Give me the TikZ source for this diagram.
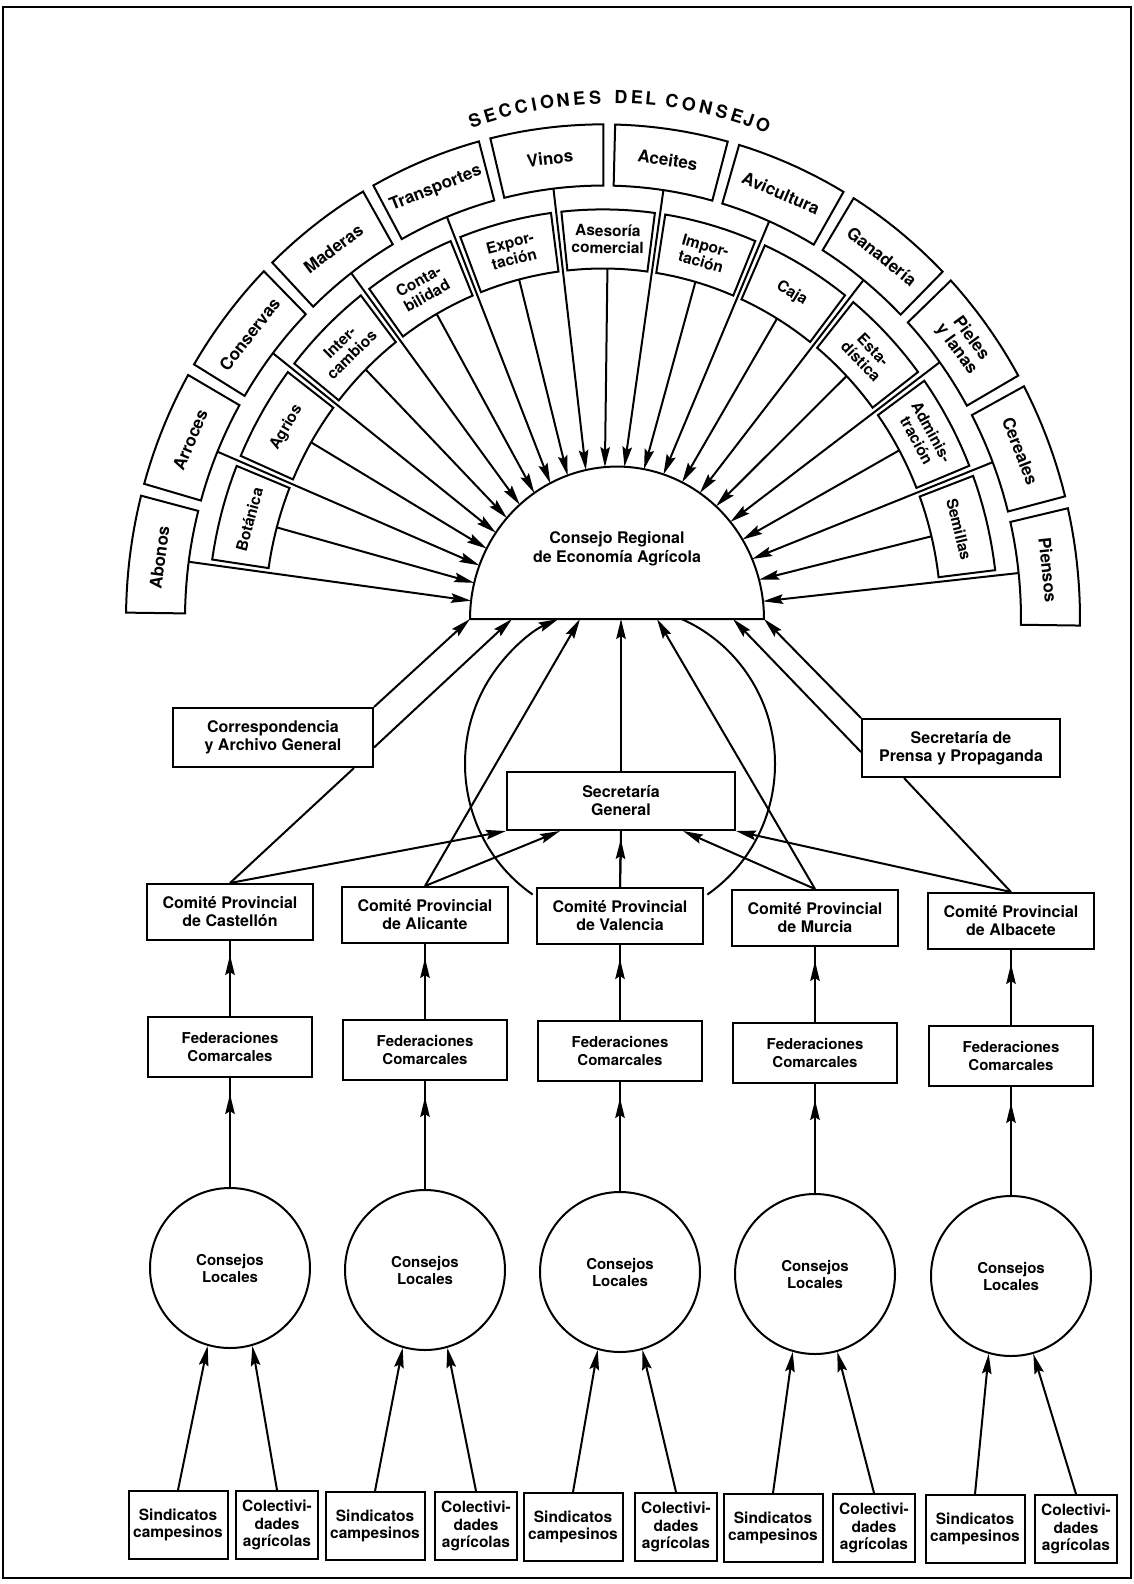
\documentclass[tikz,border=0pt]{standalone}
\usepackage{fontspec}
\setmainfont{TeX Gyre Heros}
\usetikzlibrary{arrows.meta,calc}
\begin{document}
\begin{tikzpicture}[x=1pt,y=1pt,
  ln/.style={line width=2pt},
  arr/.style={line width=2pt,-{Stealth[length=20pt,width=9.5pt,inset=3pt]}},
  fanlbl/.style={font=\fontsize{17}{18}\selectfont\bfseries,align=center,inner sep=0pt},
  innlbl/.style={font=\fontsize{15.5}{17}\selectfont\bfseries,align=center,inner sep=0pt},
  ttl/.style={font=\fontsize{18}{18}\selectfont\bfseries,inner sep=0pt},
  bx/.style={draw,line width=2pt,fill=white,align=center,inner sep=0pt,font=\fontsize{16}{18}\selectfont\bfseries},
  combox/.style={bx,minimum width=166pt,minimum height=56pt},
  fedbox/.style={bx,minimum width=164pt,minimum height=60pt,font=\fontsize{15}{18}\selectfont\bfseries},
  loccirc/.style={draw,circle,line width=2pt,fill=white,minimum size=160pt,inner sep=0pt,align=center,font=\fontsize{15}{17}\selectfont\bfseries},
  sindbox/.style={bx,minimum width=99pt,minimum height=68pt,font=\fontsize{15.5}{17}\selectfont\bfseries},
  colbox/.style={bx,minimum width=82pt,minimum height=68pt,font=\fontsize{15.5}{17.5}\selectfont\bfseries},
]
\fill[white] (0,0) rectangle (1134,-1584);
\draw[line width=1.6pt] (3,-7) rectangle (1131,-1578);

% title along an arc
\foreach \ch/\xx [count=\i] in {S/475,E/490,C/505,C/521,I/534,O/547,N/563,E/579,S/595,D/621,E/637,L/651,C/672,O/689,N/706,S/722,E/737,J/749,O/763}{
  \pgfmathsetmacro\ang{asin((\xx-612)/420)}
  \path (612,-517) ++({90-\ang}:420) node[ttl,rotate=-\ang] (t\i) {\ch};
}

% fan of sections
\begin{scope}[shift={(603,-619)},y=1.037pt]
  \coordinate (fanc) at (0,0);
  \coordinate (semi) at (14,0);
  \foreach \k/\txt in {0/Abonos,1/Arroces,2/Conservas,3/Maderas,4/Transportes,5/Vinos,6/Aceites,7/Avicultura,8/Ganadería,9/{Pieles\\y lanas},10/Cereales,11/Piensos}{
    \pgfmathsetmacro\angc{89.25+15.12*(5.5-\k)}
    \pgfmathsetmacro\anga{\angc-6.85}
    \pgfmathsetmacro\angb{\angc+6.85}
    \pgfmathsetmacro\rend{14*cos(\angc)+147*sqrt(1-(14/147*sin(\angc))^2)}
    \draw[ln] plot[domain=\anga:\angb,samples=12] (\x:477) -- plot[domain=\angb:\anga,samples=12] (\x:418) -- cycle;
    \node[fanlbl,rotate=\angc-90] (out\k) at (\angc:447.5) {\txt};
    \coordinate (os\k) at (\angc:418);
    \coordinate (oe\k) at (\angc:\rend);
    \draw[arr] (os\k) -- (oe\k);
  }
  \foreach \k/\txt in {0/Botánica,1/Agrios,2/{Inter-\\cambios},3/{Conta-\\bilidad},4/{Expor-\\tación},5/{Asesoría\\comercial},6/{Impor-\\tación},7/Caja,8/{Esta-\\dística},9/{Adminis-\\tración},10/Semillas}{
    \pgfmathsetmacro\angc{89.25+15.12*(5-\k)}
    \pgfmathsetmacro\anga{\angc-6.8}
    \pgfmathsetmacro\angb{\angc+6.8}
    \pgfmathsetmacro\rend{14*cos(\angc)+147*sqrt(1-(14/147*sin(\angc))^2)}
    \draw[ln] plot[domain=\anga:\angb,samples=10] (\x:395) -- plot[domain=\angb:\anga,samples=10] (\x:338) -- cycle;
    \node[innlbl,rotate=\angc-90] (inn\k) at (\angc:366.5) {\txt};
    \coordinate (is\k) at (\angc:338);
    \coordinate (ie\k) at (\angc:\rend);
    \draw[arr] (is\k) -- (ie\k);
  }
  \draw[ln,fill=white] plot[domain=180:0,samples=90] ({14+147*cos(\x)},{147*sin(\x)}) -- cycle;
  \node[fanlbl,font=\fontsize{16}{19}\selectfont\bfseries] (consejo) at (14,68) {Consejo Regional\\de Economía Agrícola};
\end{scope}

% the large circle (two arcs from Valencia)
\draw[arr] (620,-764) ++(235.7:155 and 158) arc[start angle=235.7,end angle=113.4,x radius=155,y radius=158];
\draw[ln] (620,-764) ++(304.3:155 and 158) arc[start angle=304.3,end angle=426.6,x radius=155,y radius=158];

\node[bx,minimum width=200pt,minimum height=59pt] (corr) at (273,-737.5) {Correspondencia\\y Archivo General};
\node[bx,minimum width=198pt,minimum height=58pt] (prensa) at (961,-748) {Secretaría de\\Prensa y Propaganda};
\node[bx,minimum width=228pt,minimum height=58pt] (secgen) at (621,-801) {Secretaría\\General};

\foreach \n/\xx/\yy/\ly/\sx/\cx/\by/\name in {
 cas/230/912/1268/178/277/1525/Castellón,
 ali/425/915/1270/375/476/1526/Alicante,
 val/620/916/1272/573/676/1527/Valencia,
 mur/815/918/1274/773/874/1528/Murcia,
 alb/1011/921/1276/975/1076/1529/Albacete}{
  \node[combox] (c\n) at (\xx,-\yy) {Comité Provincial\\de \name};
  \node[fedbox] (f\n) at (\xx,-\yy-135) {Federaciones\\Comarcales};
  \node[loccirc] (l\n) at (\xx,-\ly) {Consejos\\Locales};
  \node[sindbox] (s\n) at (\sx,-\by) {Sindicatos\\campesinos};
  \node[colbox] (k\n) at (\cx,-\by) {Colectivi-\\dades\\agrícolas};
  \draw[ln] (f\n.north) -- (c\n.south);
  \draw[arr,shorten >=14pt] (f\n.north) -- (c\n.south);
  \draw[ln] (l\n.north) -- (f\n.south);
  \draw[arr,shorten >=16pt] (l\n.north) -- (f\n.south);
  \draw[arr] (s\n.north) -- (l\n.-106);
  \draw[arr] (k\n.north) -- (l\n.-74);
}

\draw[ln] (ccas.north) -- ($(corr.south east)+(-20,0)$);
\draw[arr] (ccas.north) -- (secgen.south west);
\draw[arr] (corr.north east) -- ($(semi)+(-147,0)$);
\draw[arr] ($(corr.east)+(0,-10)$) -- ($(semi)+(-105,0)$);
\draw[arr] (cali.north) -- ($(semi)+(-37,0)$);
\draw[arr] (cali.north) -- ($(secgen.south)+(-61,0)$);
\draw[ln] (cval.north) -- (secgen.south);
\draw[arr,shorten >=8pt] (cval.north) -- (secgen.south);
\draw[arr] (secgen.north) -- (secgen.north |- semi);
\draw[arr] (cmur.north) -- ($(semi)+(40,0)$);
\draw[arr] (cmur.north) -- ($(secgen.south)+(62,0)$);
\draw[arr] (calb.north) -- (secgen.south east);
\draw[ln] (calb.north) -- ($(prensa.south west)+(43,0)$);
\draw[arr] (prensa.north west) -- ($(semi)+(147,0)$);
\draw[arr] ($(prensa.west)+(0,-4)$) -- ($(semi)+(116,0)$);
\end{tikzpicture}
\end{document}
